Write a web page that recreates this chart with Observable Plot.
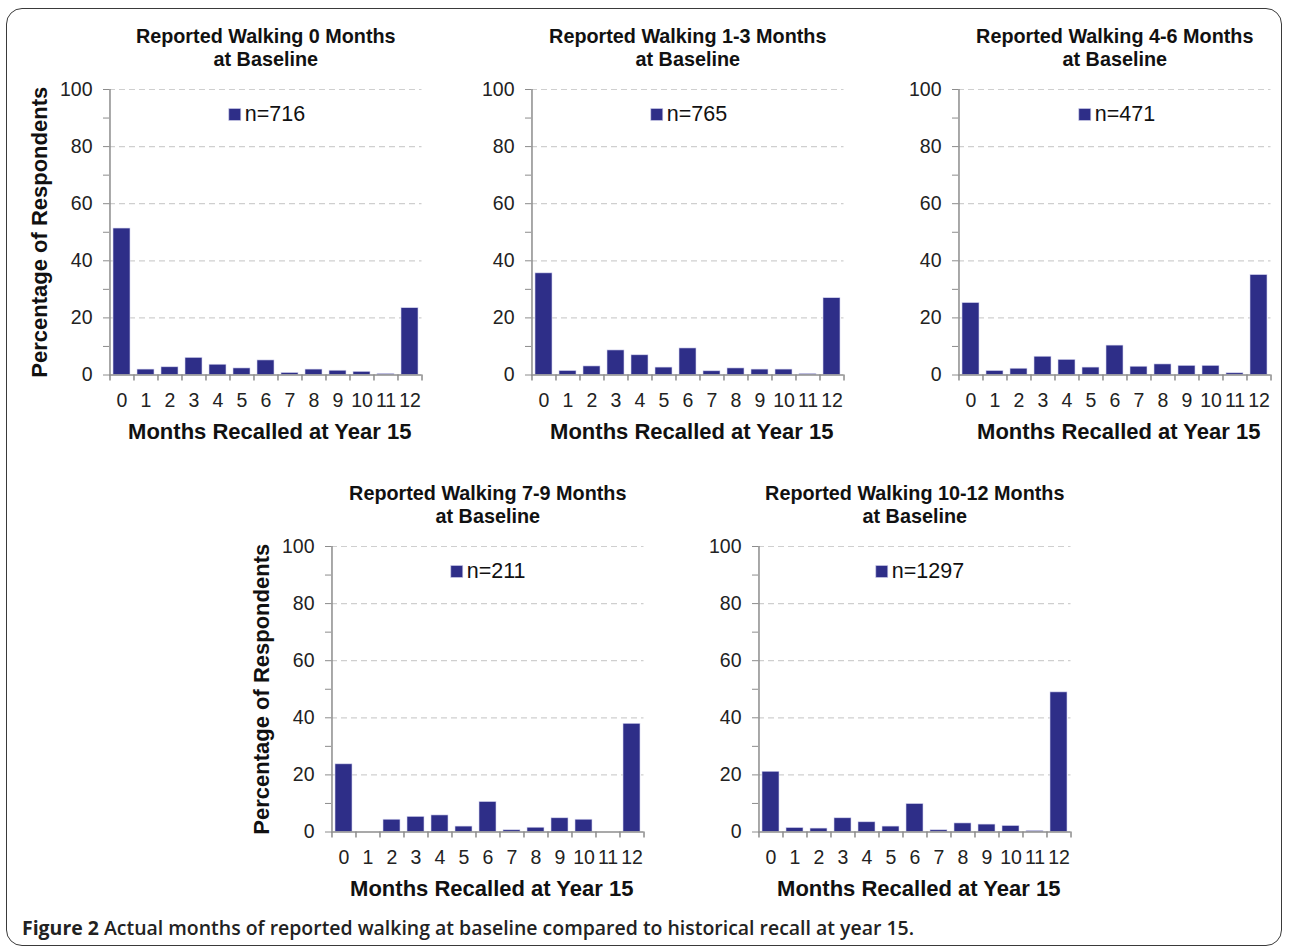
<!DOCTYPE html>
<html>
<head>
<meta charset="utf-8">
<script src="https://cdn.jsdelivr.net/npm/d3@7"></script>
<script src="https://cdn.jsdelivr.net/npm/@observablehq/plot@0.6"></script>
<style>
  html, body { margin: 0; padding: 0; background: #fff; }
  #root { position: relative; width: 1289px; height: 949px; overflow: hidden; font-family: "Liberation Sans", Arial, sans-serif; }
  #border { position: absolute; left: 6px; top: 8px; width: 1276px; height: 938px; border: 1.5px solid #3a3a3a; border-radius: 16px; box-sizing: border-box; }
  .panel { position: absolute; }
  #caption { position: absolute; left: 22px; top: 914px; font-family: "Open Sans", sans-serif; font-size: 20px; font-weight: 600; color: #222; white-space: nowrap; transform-origin: 0 0; }
  #caption b { font-weight: 700; }
</style>
</head>
<body>
<div id="root">
  <div id="border"></div>
  <div id="caption"><b>Figure 2</b> Actual months of reported walking at baseline compared to historical recall at year 15.</div>
</div>
<script>
// ---- data ----
const months = ["0","1","2","3","4","5","6","7","8","9","10","11","12"];
const titles = [
  "Reported Walking 0 Months\nat Baseline",
  "Reported Walking 1-3 Months\nat Baseline",
  "Reported Walking 4-6 Months\nat Baseline",
  "Reported Walking 7-9 Months\nat Baseline",
  "Reported Walking 10-12 Months\nat Baseline"
];
const nLabels = ["n=716", "n=765", "n=471", "n=211", "n=1297"];
const pctBase0    = [51.3, 1.9, 2.7, 6.0, 3.6, 2.3, 5.1, 0.7, 1.9, 1.5, 1.1, 0.35, 23.4];
const pctBase1to3 = [35.6, 1.4, 3.0, 8.6, 6.9, 2.6, 9.3, 1.3, 2.3, 1.9, 1.9, 0.35, 26.9];
const pctBase4to6 = [25.2, 1.4, 2.2, 6.4, 5.3, 2.6, 10.3, 2.9, 3.7, 3.2, 3.2, 0.6, 35.0];
const pctBase7to9 = [23.7, 0, 4.3, 5.3, 5.8, 1.9, 10.5, 0.6, 1.5, 4.8, 4.3, 0, 37.9];
const pctBase10to12 = [21.1, 1.4, 1.2, 4.8, 3.4, 1.9, 9.8, 0.6, 3.0, 2.6, 2.1, 0.35, 48.9];
const series = [pctBase0, pctBase1to3, pctBase4to6, pctBase7to9, pctBase10to12];
const yLabel = "Percentage of Respondents";
const xLabel = "Months Recalled at Year 15";
const yTicks = [0, 10, 20, 30, 40, 50, 60, 70, 80, 90, 100];
const gridTicks = [20, 40, 60, 80, 100];

// ---- layout ----
const layout = [
  {ax: 109, top: 89, yl: true, ldx: -31},
  {ax: 530.5, top: 89, yl: false, ldx: -31},
  {ax: 957.5, top: 89, yl: false, ldx: -30},
  {ax: 331, top: 545.5, yl: true, ldx: -31},
  {ax: 758, top: 545.5, yl: false, ldx: -33}
];
const W = 312.5, H = 285.5;
const mL = 85, mR = 15, mT = 65, mB = 75;
const barColor = "#2e2e88";
const axisColor = "#8c8c8c";
const step = W / months.length;

const root = document.getElementById("root");
layout.forEach((L, i) => {
  const data = months.map((m, j) => ({m, v: series[i][j]}));
  const marks = [
    Plot.ruleY(gridTicks, {stroke: "#cfcfcf", strokeDasharray: "6,4", strokeWidth: 1.2}),
    Plot.barY(data, {x: "m", y: "v", fill: barColor, stroke: "#d6d6f0", strokeWidth: 0.6}),
    Plot.ruleY([0], {stroke: axisColor, strokeWidth: 1.5}),
    Plot.ruleX([months[0]], {x: d => d, y1: 0, y2: 100, dx: -step / 2, stroke: axisColor, strokeWidth: 1.5}),
    Plot.ruleX(months, {x: d => d, y1: 0, y2: 0, dx: -step / 2, insetBottom: -6, stroke: axisColor, strokeWidth: 1.5}),
    Plot.ruleX([months[months.length - 1]], {x: d => d, y1: 0, y2: 0, dx: step / 2, insetBottom: -6, stroke: axisColor, strokeWidth: 1.5}),
    Plot.axisY({ticks: yTicks, tickFormat: d => d % 20 ? "" : d, tickSize: 6, tickPadding: 11, stroke: axisColor, fill: "#222", fontSize: 19.5, label: null}),
    Plot.axisX({tickSize: 0, tickPadding: 18, fill: "#222", fontSize: 19.5, label: null}),
    Plot.text([titles[i]], {text: d => d, frameAnchor: "top", dy: -42, lineAnchor: "middle", lineHeight: 1.15, fontWeight: "bold", fontSize: 19.8, fill: "#111"}),
    Plot.dot([0], {frameAnchor: "top", dx: L.ldx, dy: 25, symbol: "square", r: 6.8, fill: barColor, stroke: "#d6d6f0", strokeWidth: 0.6}),
    Plot.text([nLabels[i]], {text: d => d, frameAnchor: "top", dx: L.ldx + 10, dy: 25, textAnchor: "start", lineAnchor: "middle", fontSize: 21.5, fill: "#111"}),
    Plot.text([xLabel], {text: d => d, frameAnchor: "bottom", dx: 4, dy: 57, lineAnchor: "middle", fontWeight: "bold", fontSize: 22, fill: "#111"})
  ];
  if (L.yl) marks.push(Plot.text([yLabel], {text: d => d, frameAnchor: "left", dx: -70, rotate: -90, textAnchor: "middle", lineAnchor: "middle", fontWeight: "bold", fontSize: 22, fill: "#111"}));
  const svg = Plot.plot({
    width: mL + W + mR,
    height: mT + H + mB,
    marginLeft: mL, marginRight: mR, marginTop: mT, marginBottom: mB,
    style: {fontFamily: "'Liberation Sans', Arial, sans-serif", background: "transparent", overflow: "visible"},
    x: {domain: months, paddingInner: 0.3, paddingOuter: 0.15, axis: null},
    y: {domain: [0, 100], axis: null},
    marks
  });
  const div = document.createElement("div");
  div.className = "panel";
  div.style.left = (L.ax - mL) + "px";
  div.style.top = (L.top - mT) + "px";
  div.appendChild(svg);
  root.appendChild(div);
});
// fit caption width to the reference extent (x 22 → 914)
const cap = document.getElementById("caption");
const cw = cap.getBoundingClientRect().width;
cap.style.transform = `scaleX(${892 / cw})`;
</script>
</body>
</html>
